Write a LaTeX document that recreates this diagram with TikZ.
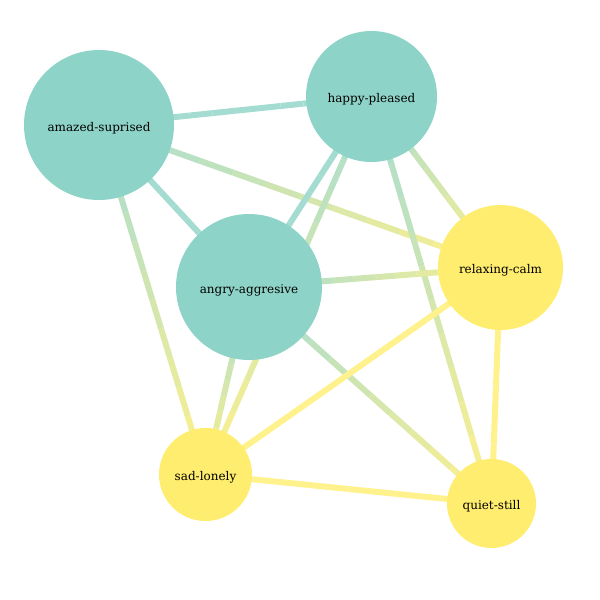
\documentclass[tikz,border=0pt]{standalone}
\usepackage{fontspec}
\setmainfont{DejaVu Serif}
\usepackage{xcolor}
\usetikzlibrary{calc,backgrounds}
\definecolor{tealmood}{HTML}{8DD3C7}
\definecolor{sunmood}{HTML}{FFED6F}
% edge shaded from one end colour to the other, in short pieces
\newcommand{\moodedge}[4]{%
  \foreach \k in {0,...,11}{
    \pgfmathsetmacro{\ta}{\k/12}
    \pgfmathsetmacro{\tb}{(\k+1)/12}
    \pgfmathsetmacro{\mixp}{100-100*(\k+0.5)/12}
    \draw[link, draw=#3!\mixp!#4!80!white] ($(#1)!\ta!(#2)$) -- ($(#1)!\tb!(#2)$);
  }}

\begin{document}
\begin{tikzpicture}[
    x=1pt, y=-1pt,
    link/.style={line width=6pt, line cap=butt},
    moodA/.style={circle, fill=tealmood, inner sep=0pt, text height=12pt, text depth=0pt, font=\fontsize{12}{14}\selectfont},
    moodB/.style={moodA, fill=sunmood}
]
\useasboundingbox (0,0) rectangle (600,600);

\node[moodA, minimum size=150pt] (amazed) at (99,125) {amazed-suprised};
\node[moodA, minimum size=131pt] (happy) at (371.5,96.5) {happy-pleased};
\node[moodA, minimum size=146pt] (angry) at (249,287) {angry-aggresive};
\node[moodB, minimum size=125pt] (relax) at (500.5,267.5) {relaxing-calm};
\node[moodB, minimum size=93pt] (sad) at (205.5,474.5) {sad-lonely};
\node[moodB, minimum size=89pt] (quiet) at (491.5,503.5) {quiet-still};

\begin{scope}[on background layer]
\moodedge{amazed}{happy}{tealmood}{tealmood}
\moodedge{amazed}{angry}{tealmood}{tealmood}
\moodedge{amazed}{relax}{tealmood}{sunmood}
\moodedge{amazed}{sad}{tealmood}{sunmood}
\moodedge{happy}{angry}{tealmood}{tealmood}
\moodedge{happy}{sad}{tealmood}{sunmood}
\moodedge{happy}{relax}{tealmood}{sunmood}
\moodedge{happy}{quiet}{tealmood}{sunmood}
\moodedge{angry}{relax}{tealmood}{sunmood}
\moodedge{angry}{sad}{tealmood}{sunmood}
\moodedge{angry}{quiet}{tealmood}{sunmood}
\moodedge{relax}{sad}{sunmood}{sunmood}
\moodedge{relax}{quiet}{sunmood}{sunmood}
\moodedge{sad}{quiet}{sunmood}{sunmood}
\end{scope}
\end{tikzpicture}
\end{document}
